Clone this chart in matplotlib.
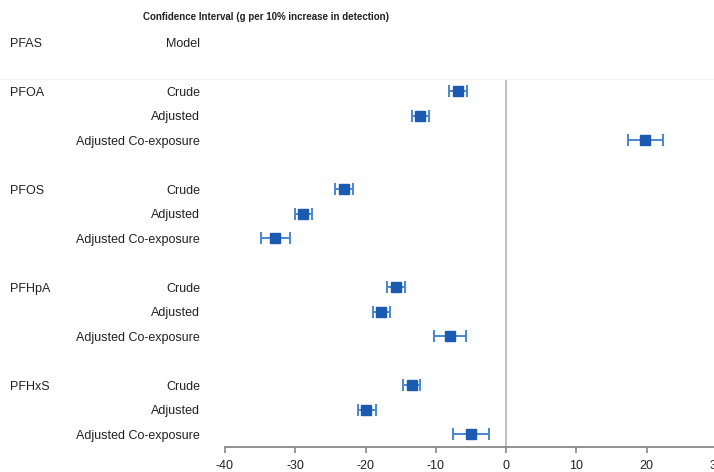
import matplotlib
matplotlib.use("Agg")
import matplotlib.pyplot as plt
import matplotlib.transforms as mtransforms
from matplotlib.lines import Line2D

pfas = ["PFOA", "PFOS", "PFHpA", "PFHxS"]
models = ["Crude", "Adjusted", "Adjusted Co-exposure"]
est = [[-6.9, -12.2, 19.8],
       [-23.0, -28.9, -32.9],
       [-15.7, -17.8, -8.0],
       [-13.4, -19.9, -5.0]]
lo = [[-8.1, -13.4, 17.3],
      [-24.3, -30.0, -34.9],
      [-16.9, -18.9, -10.3],
      [-14.7, -21.1, -7.6]]
hi = [[-5.6, -11.0, 22.4],
      [-21.8, -27.6, -30.8],
      [-14.4, -16.5, -5.7],
      [-12.2, -18.5, -2.4]]
xticks = [-40, -30, -20, -10, 0, 10, 20, 30]
title = "Confidence Interval (g per 10% increase in detection)"

plt.rcParams['font.family'] = ['Liberation Sans', 'DejaVu Sans']

W, H = 714, 472
fig = plt.figure(figsize=(W / 100, H / 100), dpi=100)
ax = fig.add_axes([225 / W, 1 - 447 / H, (716.75 - 225) / W, (447 - 79) / H])

marker_c = "#1a5ab0"
err_c = "#4a87d0"
txt_c = "#222222"

for g in range(len(pfas)):
    for m in range(len(models)):
        y = g * 4 + m
        e = est[g][m]
        ax.errorbar(e, y, xerr=[[e - lo[g][m]], [hi[g][m] - e]], fmt="s",
                    color=marker_c, ecolor=err_c, elinewidth=1.4, capsize=4,
                    capthick=1.4, markersize=7, zorder=3)

ax.set_xlim(-40, 30)
ax.set_ylim(14.53, -0.49)
ax.axvline(0, color="#bbbbbb", lw=1.3, zorder=1)

for s in ["top", "right", "left"]:
    ax.spines[s].set_visible(False)
ax.spines["bottom"].set_color("#888888")
ax.spines["bottom"].set_linewidth(1.3)
ax.set_yticks([])
ax.set_xticks(xticks)
ax.set_xticklabels([str(t) for t in xticks])
ax.tick_params(axis="x", length=4.5, width=1.2, color="#888888",
               labelsize=9, labelcolor=txt_c, pad=5)

trans = mtransforms.blended_transform_factory(fig.transFigure, ax.transData)
fs = 9
for g in range(len(pfas)):
    ax.text(10 / W, g * 4, pfas[g], transform=trans, ha="left", va="center_baseline",
            fontsize=fs, color=txt_c, clip_on=False)
    for m in range(len(models)):
        ax.text(200 / W, g * 4 + m, models[m], transform=trans, ha="right",
                va="center_baseline", fontsize=fs, color=txt_c, clip_on=False)

ax.text(10 / W, -2, "PFAS", transform=trans, ha="left", va="center_baseline",
        fontsize=fs, color=txt_c, clip_on=False)
ax.text(200 / W, -2, "Model", transform=trans, ha="right", va="center_baseline",
        fontsize=fs, color=txt_c, clip_on=False)
fig.text(266 / W, 1 - 17 / H, title, ha="center", va="center",
         fontsize=7, fontweight="bold", color=txt_c)

fig.add_artist(Line2D([0, 1], [1 - 79 / H, 1 - 79 / H], transform=fig.transFigure,
                      color="#f2f2f2", lw=1))

fig.savefig("out.png", dpi=100)
